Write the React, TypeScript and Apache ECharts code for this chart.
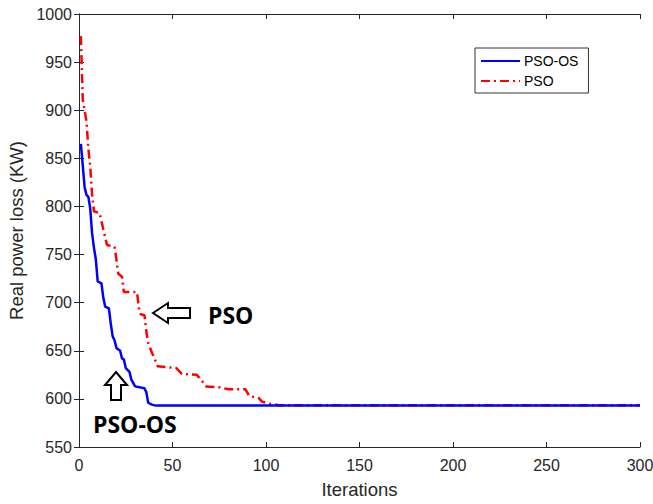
import React, { useEffect, useRef } from "react";
import * as echarts from "echarts";

const psoOsData: [number, number][] = [
  [1, 865], [2, 843], [3, 820], [4, 812], [5, 810], [6, 798], [7, 772], [8, 757],
  [9, 745], [10, 722], [12, 720], [13, 705], [14, 696], [16, 694], [17, 678],
  [18, 665], [19, 661], [20, 653], [22, 650], [23, 642], [24, 641], [25, 632],
  [27, 628], [28, 620], [30, 613], [35, 611], [36, 607], [37, 596], [39, 594],
  [41, 593], [300, 593],
];

const psoData: [number, number][] = [
  [1, 977], [2, 911], [3, 900], [4, 888], [5, 860], [6, 842], [7, 812], [8, 795],
  [11, 793], [12, 785], [13, 776], [15, 760], [19, 758], [20, 745], [21, 730],
  [23, 727], [24, 711], [31, 711], [32, 695], [33, 688], [35, 687], [36, 670],
  [37, 658], [39, 648], [40, 644], [42, 634], [47, 633], [52, 632], [55, 626],
  [63, 625], [66, 618], [68, 613], [75, 612], [80, 610], [89, 610], [91, 603],
  [96, 601], [98, 597], [102, 595], [107, 593.5], [300, 593.5],
];

const seriesNames = ["PSO-OS", "PSO"];
const xTitle = "Iterations";
const yTitle = "Real power loss (KW)";
const annotationPso = "PSO";
const annotationPsoOs = "PSO-OS";

export default function App() {
  const ref = useRef<HTMLDivElement>(null);
  useEffect(() => {
    if (!ref.current) return;
    const chart = echarts.init(ref.current, undefined, { renderer: "svg" });
    const textColor = "#262626";
    const axisCommon = {
      axisLine: { show: true, lineStyle: { color: textColor, width: 1 } },
      axisTick: { show: true, inside: true, length: 5, lineStyle: { color: textColor } },
      splitLine: { show: false },
    };
    chart.setOption({
      animation: false,
      backgroundColor: "#ffffff",
      grid: { left: 79, top: 14, right: 13, bottom: 57, containLabel: false, outerBoundsMode: "none" },
      legend: {
        orient: "vertical",
        left: 475,
        top: 48,
        itemWidth: 39,
        itemHeight: 14,
        itemGap: 6,
        padding: [6, 10, 5, 5],
        borderColor: "#333333",
        borderWidth: 1,
        backgroundColor: "#ffffff",
        itemStyle: { opacity: 0 },
        textStyle: { fontFamily: "Liberation Sans", fontSize: 14, color: "#000", padding: [0, 0, 0, -1] },
        data: seriesNames,
      },
      xAxis: [
        {
          type: "value",
          min: 0,
          max: 300,
          interval: 50,
          position: "bottom",
          name: xTitle,
          nameLocation: "middle",
          nameGap: 33,
          nameTextStyle: { fontFamily: "Liberation Sans", fontSize: 18.5, color: textColor },
          axisLabel: { fontFamily: "Liberation Sans", fontSize: 16, color: textColor, margin: 10 },
          ...axisCommon,
        },
        {
          type: "value",
          min: 0,
          max: 300,
          interval: 50,
          position: "top",
          axisLabel: { show: false },
          ...axisCommon,
        },
      ],
      yAxis: [
        {
          type: "value",
          min: 550,
          max: 1000,
          interval: 50,
          position: "left",
          name: yTitle,
          nameLocation: "middle",
          nameGap: 48,
          nameTextStyle: { fontFamily: "Liberation Sans", fontSize: 18.5, color: textColor },
          axisLabel: {
            fontFamily: "Liberation Sans",
            fontSize: 16,
            color: textColor,
            margin: 7,
            formatter: (v: number) => String(v),
          },
          ...axisCommon,
        },
        {
          type: "value",
          min: 550,
          max: 1000,
          interval: 50,
          position: "right",
          axisLabel: { show: false },
          ...axisCommon,
        },
      ],
      series: [
        {
          name: seriesNames[0],
          type: "line",
          data: psoOsData,
          symbol: "none",
          showSymbol: false,
          lineStyle: { color: "#0000ff", width: 2.5 },
          itemStyle: { color: "#0000ff" },
          z: 3,
        },
        {
          name: seriesNames[1],
          type: "line",
          data: psoData,
          symbol: "none",
          showSymbol: false,
          lineStyle: { color: "#ff0000", width: 2.5, type: [9, 4, 2, 4] },
          itemStyle: { color: "#ff0000" },
          z: 2,
        },
      ],
      graphic: [
        {
          type: "polygon",
          shape: {
            points: [
              [153, 313], [168, 303], [168, 308], [190, 308], [190, 318], [168, 318], [168, 323],
            ],
          },
          style: { fill: "#ffffff", stroke: "#000000", lineWidth: 2 },
          z: 10,
        },
        {
          type: "polygon",
          shape: {
            points: [
              [116, 372], [127, 385], [121, 385], [121, 400], [111, 400], [111, 385], [105, 385],
            ],
          },
          style: { fill: "#ffffff", stroke: "#000000", lineWidth: 2 },
          z: 10,
        },
        {
          type: "text",
          x: 208,
          y: 315,
          style: {
            text: annotationPso,
            fontFamily: "Open Sans",
            fontWeight: "bold",
            fontSize: 23,
            fill: "#000000",
            verticalAlign: "middle",
          },
          z: 10,
        },
        {
          type: "text",
          x: 93,
          y: 424,
          style: {
            text: annotationPsoOs,
            fontFamily: "Open Sans",
            fontWeight: "bold",
            fontSize: 23,
            fill: "#000000",
            verticalAlign: "middle",
          },
          z: 10,
        },
      ],
    });
    return () => chart.dispose();
  }, []);
  return <div ref={ref} style={{ width: 653, height: 504, position: "absolute", left: 0, top: 0 }} />;
}
